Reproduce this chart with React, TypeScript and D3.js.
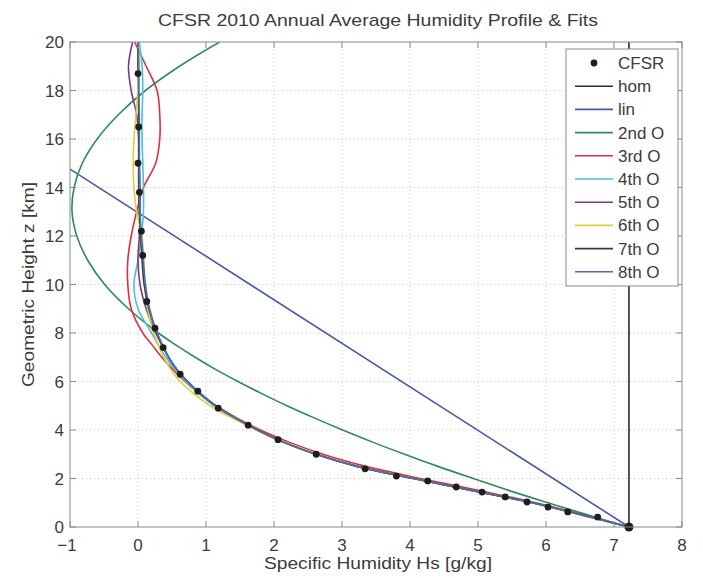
import React from "react";
import * as d3 from "d3";

// Heights (km) at which each fitted profile is sampled
const zGrid = [0, 0.5, 1, 1.5, 2, 2.5, 3, 3.5, 4, 4.5, 5, 5.5, 6, 6.5, 7, 7.5, 8, 9, 10, 11, 12, 13, 14, 15, 16, 17, 18, 19, 20];

// CFSR annual mean specific humidity (g/kg) at model levels
const cfsrZ = [0, 0.41, 0.62, 0.82, 1.03, 1.24, 1.44, 1.65, 1.9, 2.1, 2.4, 3.0, 3.6, 4.2, 4.9, 5.6, 6.3, 7.4, 8.2, 9.3, 11.2, 12.2, 13.8, 15.0, 16.5, 18.7];
const cfsrHs = [7.22, 6.76, 6.32, 6.03, 5.72, 5.4, 5.06, 4.68, 4.26, 3.8, 3.34, 2.62, 2.06, 1.62, 1.18, 0.88, 0.62, 0.37, 0.25, 0.13, 0.07, 0.05, 0.02, 0.0, 0.01, 0.0];

// Homogeneous and linear fits (two end points each)
const homZ = [0, 20];
const homHs = [7.22, 7.22];
const linZ = [0, 20];
const linHs = [7.22, -3.92];

// Polynomial fits, sampled on zGrid
const fit2 = [7.22, 6.61, 6.03, 5.46, 4.93, 4.41, 3.92, 3.45, 3.01, 2.59, 2.19, 1.82, 1.47, 1.14, 0.84, 0.56, 0.3, -0.14, -0.49, -0.74, -0.9, -0.97, -0.94, -0.82, -0.6, -0.29, 0.11, 0.61, 1.2];
const fit3 = [7.22, 6.55, 5.85, 5.02, 4.15, 3.35, 2.72, 2.22, 1.8, 1.45, 1.15, 0.9, 0.69, 0.51, 0.35, 0.21, 0.07, -0.1, -0.15, -0.15, -0.1, -0.02, 0.08, 0.26, 0.32, 0.32, 0.28, 0.12, -0.05];
const fit4 = [7.22, 6.52, 5.79, 4.93, 4.06, 3.24, 2.63, 2.15, 1.75, 1.41, 1.12, 0.89, 0.7, 0.54, 0.41, 0.3, 0.2, 0.0, -0.06, 0.0, 0.05, 0.08, 0.08, 0.07, 0.06, 0.06, 0.07, 0.06, 0.02];
const fit5 = [7.22, 6.53, 5.8, 4.93, 4.05, 3.22, 2.61, 2.13, 1.75, 1.42, 1.14, 0.92, 0.73, 0.57, 0.45, 0.35, 0.26, 0.12, 0.03, 0.0, 0.02, 0.03, 0.03, 0.02, 0.01, -0.02, -0.1, -0.14, -0.08];
const fit6 = [7.22, 6.52, 5.78, 4.92, 4.05, 3.23, 2.63, 2.14, 1.74, 1.38, 1.06, 0.82, 0.62, 0.48, 0.38, 0.3, 0.23, 0.14, 0.1, 0.08, 0.06, -0.02, -0.06, -0.07, -0.06, -0.03, 0.0, 0.02, 0.0];
const fit7 = [7.22, 6.53, 5.8, 4.92, 4.05, 3.22, 2.62, 2.14, 1.76, 1.43, 1.14, 0.92, 0.73, 0.57, 0.45, 0.36, 0.28, 0.16, 0.09, 0.06, 0.04, 0.02, 0.01, 0.01, 0.01, 0.01, 0.01, 0.0, 0.0];
const fit8 = [7.22, 6.52, 5.8, 4.92, 4.05, 3.22, 2.62, 2.14, 1.76, 1.43, 1.14, 0.92, 0.73, 0.57, 0.45, 0.36, 0.28, 0.17, 0.11, 0.08, 0.05, 0.03, 0.02, 0.02, 0.02, 0.02, 0.01, 0.01, 0.0];

const xTicks = [-1, 0, 1, 2, 3, 4, 5, 6, 7, 8];
const yTicks = [0, 2, 4, 6, 8, 10, 12, 14, 16, 18, 20];

const legendNames = ["CFSR", "hom", "lin", "2nd O", "3rd O", "4th O", "5th O", "6th O", "7th O", "8th O"];

const W = 703;
const H = 578;
const M = { left: 70, right: 682, top: 42, bottom: 527 };
const FONT = "'Liberation Sans', Arial, Helvetica, sans-serif";
const TEXT = "#3c3c3c";

export default function App() {
  const x = d3.scaleLinear().domain([-1, 8]).range([M.left, M.right]);
  const y = d3.scaleLinear().domain([0, 20]).range([M.bottom, M.top]);

  const line = d3
    .line<[number, number]>()
    .x((d) => x(d[0]))
    .y((d) => y(d[1]))
    .curve(d3.curveCatmullRom.alpha(0.5));
  const straight = d3
    .line<[number, number]>()
    .x((d) => x(d[0]))
    .y((d) => y(d[1]));

  const pair = (hs: number[], zs: number[]) => hs.map((v, i) => [v, zs[i]] as [number, number]);

  const series = [
    { name: "hom", color: "#2b2b2b", d: straight(pair(homHs, homZ)) },
    { name: "lin", color: "#4a57a6", d: straight(pair(linHs, linZ)) },
    { name: "2nd O", color: "#2e8b5c", d: line(pair(fit2, zGrid)) },
    { name: "3rd O", color: "#e0303e", d: line(pair(fit3, zGrid)) },
    { name: "4th O", color: "#4cc3c8", d: line(pair(fit4, zGrid)) },
    { name: "5th O", color: "#7a3a8c", d: line(pair(fit5, zGrid)) },
    { name: "6th O", color: "#d6d23a", d: line(pair(fit6, zGrid)) },
    { name: "7th O", color: "#3a3a3a", d: line(pair(fit7, zGrid)) },
    { name: "8th O", color: "#4f6fb0", d: line(pair(fit8, zGrid)) },
  ];

  const pw = M.right - M.left;
  const ph = M.bottom - M.top;
  const tickLen = 6;

  const leg = { x: 566, y: 49, w: 112, h: 237, row: 23.2 };

  return (
    <svg
      width={W}
      height={H}
      style={{ position: "absolute", left: 0, top: 0, background: "#fff" }}
      fontFamily={FONT}
    >
      <defs>
        <clipPath id="plotArea">
          <rect x={M.left} y={M.top} width={pw} height={ph} />
        </clipPath>
      </defs>
      <rect x={0} y={0} width={W} height={H} fill="#fff" />

      {/* grid */}
      <g stroke="#c8c8c8" strokeWidth={1} strokeDasharray="1,3">
        {xTicks.slice(1, -1).map((t) => (
          <line key={"gx" + t} x1={x(t)} x2={x(t)} y1={M.top} y2={M.bottom} />
        ))}
        {yTicks.slice(1, -1).map((t) => (
          <line key={"gy" + t} x1={M.left} x2={M.right} y1={y(t)} y2={y(t)} />
        ))}
      </g>

      {/* fitted profiles */}
      <g clipPath="url(#plotArea)" fill="none" strokeWidth={1.6}>
        {series.map((s) => (
          <path key={s.name} d={s.d || ""} stroke={s.color} />
        ))}
      </g>

      {/* CFSR levels */}
      <g fill="#1e1e1e">
        {cfsrZ.map((z, i) => (
          <circle key={"c" + i} cx={x(cfsrHs[i])} cy={y(z)} r={i === 0 ? 4.5 : 3.4} />
        ))}
      </g>

      {/* axes box and ticks */}
      <rect x={M.left} y={M.top} width={pw} height={ph} fill="none" stroke="#8a8a8a" strokeWidth={1} />
      <g stroke="#8a8a8a" strokeWidth={1}>
        {xTicks.map((t) => (
          <g key={"tx" + t}>
            <line x1={x(t)} x2={x(t)} y1={M.bottom} y2={M.bottom - tickLen} />
            <line x1={x(t)} x2={x(t)} y1={M.top} y2={M.top + tickLen} />
          </g>
        ))}
        {yTicks.map((t) => (
          <g key={"ty" + t}>
            <line x1={M.left} x2={M.left + tickLen} y1={y(t)} y2={y(t)} />
            <line x1={M.right} x2={M.right - tickLen} y1={y(t)} y2={y(t)} />
          </g>
        ))}
      </g>

      <g fill={TEXT} fontSize={17}>
        {xTicks.map((t) => (
          <text key={"lx" + t} x={x(t) - (t < 0 ? 3 : 0)} y={M.bottom + 24} textAnchor="middle">
            {t < 0 ? "\u2212" + Math.abs(t) : t}
          </text>
        ))}
        {yTicks.map((t) => (
          <text key={"ly" + t} x={M.left - 6} y={y(t) + 6} textAnchor="end">
            {t}
          </text>
        ))}
      </g>

      <text
        x={378}
        y={26}
        textAnchor="middle"
        fontSize={17}
        fill={TEXT}
        textLength={440}
        lengthAdjust="spacingAndGlyphs"
      >
        CFSR 2010 Annual Average Humidity Profile &amp; Fits
      </text>
      <text
        x={378}
        y={569}
        textAnchor="middle"
        fontSize={17}
        fill={TEXT}
        textLength={228}
        lengthAdjust="spacingAndGlyphs"
      >
        Specific Humidity Hs [g/kg]
      </text>
      <text
        transform={`translate(34,${(M.top + M.bottom) / 2}) rotate(-90)`}
        textAnchor="middle"
        fontSize={17}
        fill={TEXT}
        textLength={205}
        lengthAdjust="spacingAndGlyphs"
      >
        Geometric Height z [km]
      </text>

      {/* legend */}
      <g>
        <rect x={leg.x} y={leg.y} width={leg.w} height={leg.h} fill="#fff" stroke="#8a8a8a" strokeWidth={1} />
        {legendNames.map((name, i) => {
          const cy = leg.y + 14 + i * leg.row;
          const s = series.find((q) => q.name === name);
          return (
            <g key={"lg" + name}>
              {i === 0 ? (
                <circle cx={594} cy={cy} r={3.4} fill="#1e1e1e" />
              ) : (
                <line x1={575} x2={613} y1={cy} y2={cy} stroke={s ? s.color : "#000"} strokeWidth={1.6} />
              )}
              <text x={618} y={cy + 6} fontSize={17} fill={TEXT}>
                {name}
              </text>
            </g>
          );
        })}
      </g>
    </svg>
  );
}
